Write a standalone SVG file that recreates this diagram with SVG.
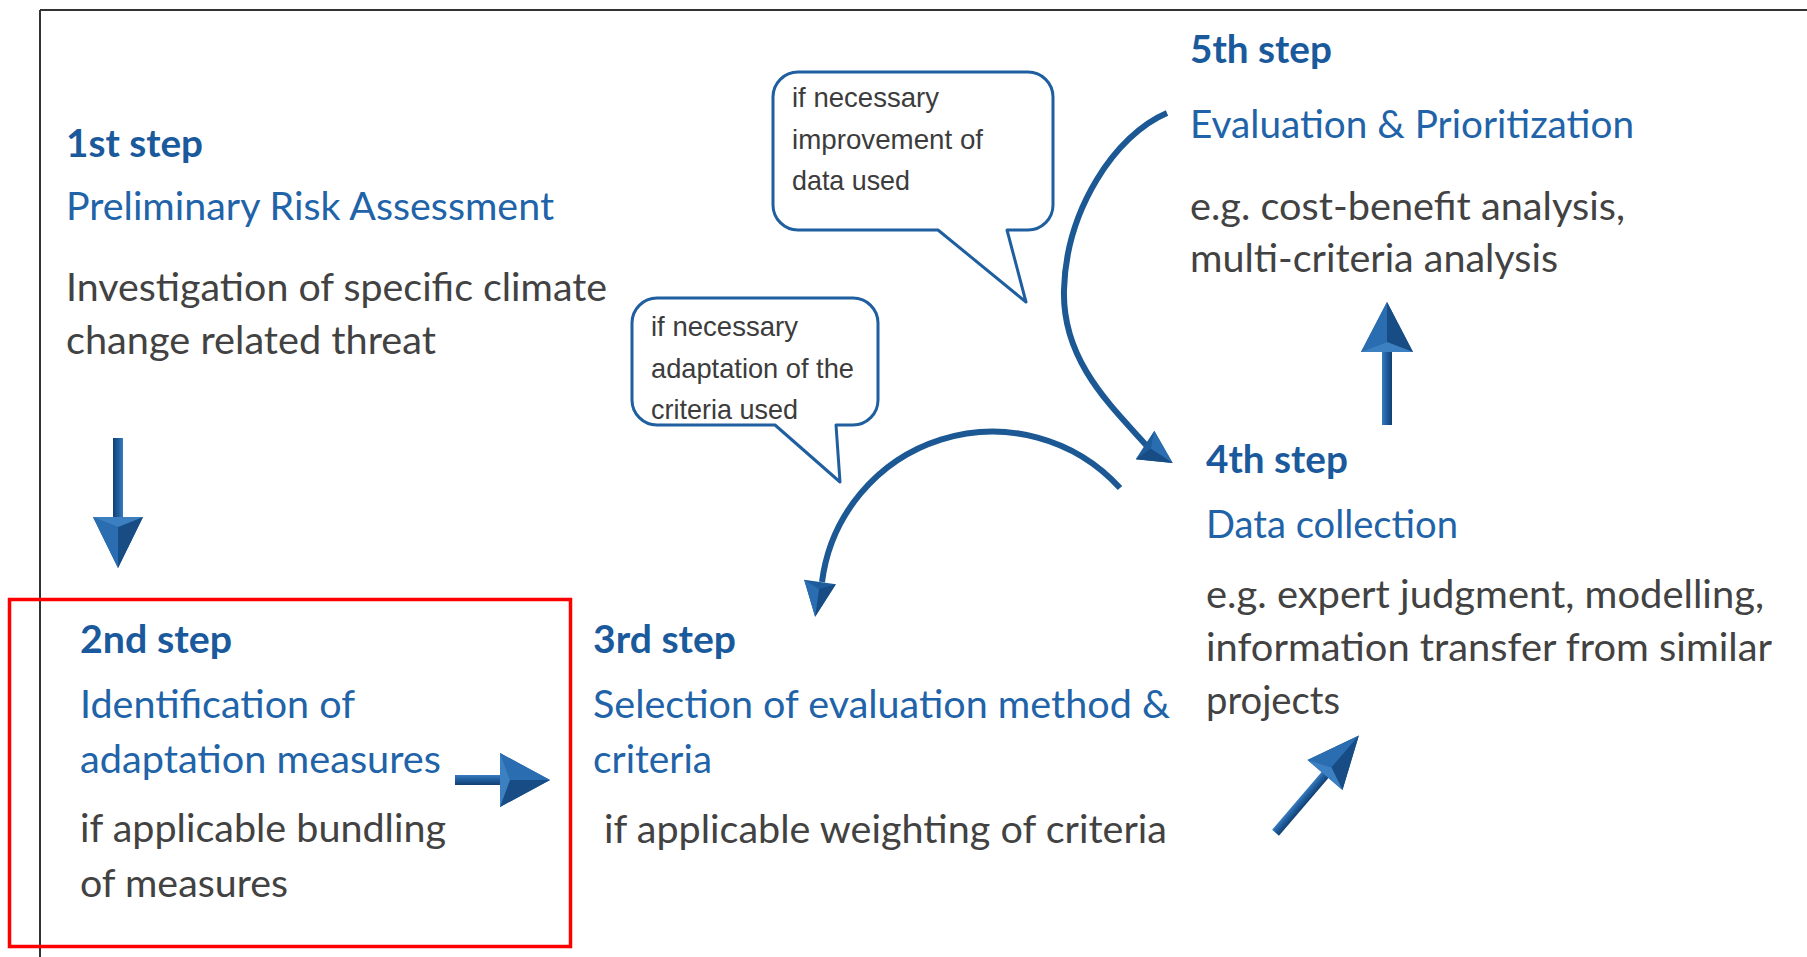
<svg xmlns="http://www.w3.org/2000/svg" width="1807" height="957" viewBox="0 0 1807 957">
  <defs>
    <style>
      .step { font-family: Lato, "Open Sans", "Liberation Sans", sans-serif; font-weight: 700; font-size: 39px; fill: #1a5a9c; }
      .title { font-family: Lato, "Open Sans", "Liberation Sans", sans-serif; font-size: 39px; fill: #2163a8; }
      .body { font-family: Lato, "Open Sans", "Liberation Sans", sans-serif; font-size: 39px; fill: #424242; }
      .note { font-family: "Liberation Sans", Arial, sans-serif; font-size: 28.5px; fill: #3c3c3c; }
      .bubble { fill: #ffffff; stroke: #1f5fa0; stroke-width: 3; stroke-linejoin: round; }
      .curve { fill: none; stroke: #1b5894; stroke-width: 6; }
      .frame { stroke: #333333; stroke-width: 2; fill: none; }
    </style>
    <linearGradient id="shaftGrad" x1="0" y1="0" x2="0" y2="1">
      <stop offset="0" stop-color="#3a7cc0"/>
      <stop offset="0.45" stop-color="#1f5e9e"/>
      <stop offset="1" stop-color="#123f70"/>
    </linearGradient>
    <linearGradient id="curveGrad" x1="0" y1="0" x2="1" y2="1">
      <stop offset="0" stop-color="#123f70"/>
      <stop offset="0.5" stop-color="#2063a6"/>
      <stop offset="1" stop-color="#174c84"/>
    </linearGradient>
  </defs>

  <!-- outer frame (top and left edges) -->
  <g id="frame">
    <line class="frame" x1="40" y1="10" x2="1807" y2="10"/>
    <line class="frame" x1="40" y1="10" x2="40" y2="957"/>
  </g>

  <!-- highlight box around step 2 -->
  <rect id="highlight" x="9.5" y="599.5" width="561" height="347" fill="none" stroke="#ff0000" stroke-width="3.5"/>

  <g id="step1">
    <text class="step" x="66" y="157" textLength="137" lengthAdjust="spacingAndGlyphs">1st step</text>
    <text class="title" x="66" y="220" textLength="488" lengthAdjust="spacingAndGlyphs">Preliminary Risk Assessment</text>
    <text class="body" x="66" y="301" textLength="541" lengthAdjust="spacingAndGlyphs">Investigation of specific climate</text>
    <text class="body" x="66" y="354" textLength="370" lengthAdjust="spacingAndGlyphs">change related threat</text>
  </g>

  <g id="step2">
    <text class="step" x="80" y="653" textLength="152" lengthAdjust="spacingAndGlyphs">2nd step</text>
    <text class="title" x="80" y="718" textLength="275" lengthAdjust="spacingAndGlyphs">Identification of</text>
    <text class="title" x="80" y="773" textLength="361" lengthAdjust="spacingAndGlyphs">adaptation measures</text>
    <text class="body" x="80" y="842" textLength="366" lengthAdjust="spacingAndGlyphs">if applicable bundling</text>
    <text class="body" x="80" y="897" textLength="208" lengthAdjust="spacingAndGlyphs">of measures</text>
  </g>

  <g id="step3">
    <text class="step" x="593" y="653" textLength="143" lengthAdjust="spacingAndGlyphs">3rd step</text>
    <text class="title" x="593" y="718" textLength="577" lengthAdjust="spacingAndGlyphs">Selection of evaluation method &amp;</text>
    <text class="title" x="593" y="773" textLength="119" lengthAdjust="spacingAndGlyphs">criteria</text>
    <text class="body" x="604" y="843" textLength="563" lengthAdjust="spacingAndGlyphs">if applicable weighting of criteria</text>
  </g>

  <g id="step4">
    <text class="step" x="1206" y="473" textLength="142" lengthAdjust="spacingAndGlyphs">4th step</text>
    <text class="title" x="1206" y="538" textLength="252" lengthAdjust="spacingAndGlyphs">Data collection</text>
    <text class="body" x="1206" y="608" textLength="558" lengthAdjust="spacingAndGlyphs">e.g. expert judgment, modelling,</text>
    <text class="body" x="1206" y="661" textLength="566" lengthAdjust="spacingAndGlyphs">information transfer from similar</text>
    <text class="body" x="1206" y="714" textLength="134" lengthAdjust="spacingAndGlyphs">projects</text>
  </g>

  <g id="step5">
    <text class="step" x="1190" y="63" textLength="142" lengthAdjust="spacingAndGlyphs">5th step</text>
    <text class="title" x="1190" y="138" textLength="444" lengthAdjust="spacingAndGlyphs">Evaluation &amp; Prioritization</text>
    <text class="body" x="1190" y="220" textLength="435" lengthAdjust="spacingAndGlyphs">e.g. cost-benefit analysis,</text>
    <text class="body" x="1190" y="272" textLength="368" lengthAdjust="spacingAndGlyphs">multi-criteria analysis</text>
  </g>

  <g id="note-data">
    <path class="bubble" d="M798,72 H1028 A25,25 0 0 1 1053,97 V205 A25,25 0 0 1 1028,230 H1007 L1026,302 L938,230 H798 A25,25 0 0 1 773,205 V97 A25,25 0 0 1 798,72 Z"/>
    <text class="note" x="792" y="107" textLength="147" lengthAdjust="spacingAndGlyphs">if necessary</text>
    <text class="note" x="792" y="149" textLength="191" lengthAdjust="spacingAndGlyphs">improvement of</text>
    <text class="note" x="792" y="190" textLength="118" lengthAdjust="spacingAndGlyphs">data used</text>
  </g>

  <g id="note-criteria">
    <path class="bubble" d="M657,298 H853 A25,25 0 0 1 878,323 V400 A25,25 0 0 1 853,425 H836 L840,482 L775,425 H657 A25,25 0 0 1 632,400 V323 A25,25 0 0 1 657,298 Z"/>
    <text class="note" x="651" y="336" textLength="147" lengthAdjust="spacingAndGlyphs">if necessary</text>
    <text class="note" x="651" y="378" textLength="203" lengthAdjust="spacingAndGlyphs">adaptation of the</text>
    <text class="note" x="651" y="419" textLength="147" lengthAdjust="spacingAndGlyphs">criteria used</text>
  </g>

  <g id="connectors">
    <!-- step 1 to step 2 -->
    <g transform="translate(118,517) rotate(90)">
      <rect x="-79" y="-5" width="82" height="10" fill="url(#shaftGrad)"/>
      <polygon points="0,-25 51,0 0,25" fill="#1e5c9c"/>
      <polygon points="0,-25 51,0 10,0" fill="#174c84"/>
      <polygon points="0,25 51,0 10,0" fill="#2a6db0"/>
      <polygon points="0,-25 10,0 0,25" fill="#3d80c2"/>
    </g>
    <!-- step 2 to step 3 -->
    <g transform="translate(500,780)">
      <rect x="-45" y="-5" width="48" height="10" fill="url(#shaftGrad)"/>
      <polygon points="0,-27 50,0 0,27" fill="#1e5c9c"/>
      <polygon points="0,-27 50,0 10,0" fill="#2a6db0"/>
      <polygon points="0,27 50,0 10,0" fill="#174c84"/>
      <polygon points="0,-27 10,0 0,27" fill="#3d80c2"/>
    </g>
    <!-- step 3 to step 4 -->
    <g transform="translate(1325,775) rotate(-49.4)">
      <rect x="-76" y="-4.5" width="79" height="9" fill="url(#shaftGrad)"/>
      <polygon points="0,-23 52,0 0,23" fill="#1e5c9c"/>
      <polygon points="0,-23 52,0 10,0" fill="#2a6db0"/>
      <polygon points="0,23 52,0 10,0" fill="#174c84"/>
      <polygon points="0,-23 10,0 0,23" fill="#3d80c2"/>
    </g>
    <!-- step 4 to step 5 -->
    <g transform="translate(1387,352) rotate(-90)">
      <rect x="-73" y="-5" width="76" height="10" fill="url(#shaftGrad)"/>
      <polygon points="0,-26 50,0 0,26" fill="#1e5c9c"/>
      <polygon points="0,-26 50,0 10,0" fill="#2a6db0"/>
      <polygon points="0,26 50,0 10,0" fill="#174c84"/>
      <polygon points="0,-26 10,0 0,26" fill="#3d80c2"/>
    </g>
    <!-- feedback: step 5 back to step 4 -->
    <path class="curve" stroke="url(#curveGrad)" d="M1167,113 C1115,135 1066,210 1064,290 C1062,360 1110,405 1147,446"/>
    <g transform="translate(1145,445) rotate(33)">
      <polygon points="0,-17 33,0 0,17" fill="#1e5c9c"/>
      <polygon points="0,-17 33,0 7,0" fill="#2a6db0"/>
      <polygon points="0,17 33,0 7,0" fill="#174c84"/>
    </g>
    <!-- feedback: step 4 back to step 3 -->
    <path class="curve" d="M1120,488 A172,172 0 0 0 822,582"/>
    <g transform="translate(820,582) rotate(98)">
      <polygon points="0,-16 35,0 0,16" fill="#1e5c9c"/>
      <polygon points="0,-16 35,0 7,0" fill="#174c84"/>
      <polygon points="0,16 35,0 7,0" fill="#2a6db0"/>
    </g>
  </g>
</svg>
